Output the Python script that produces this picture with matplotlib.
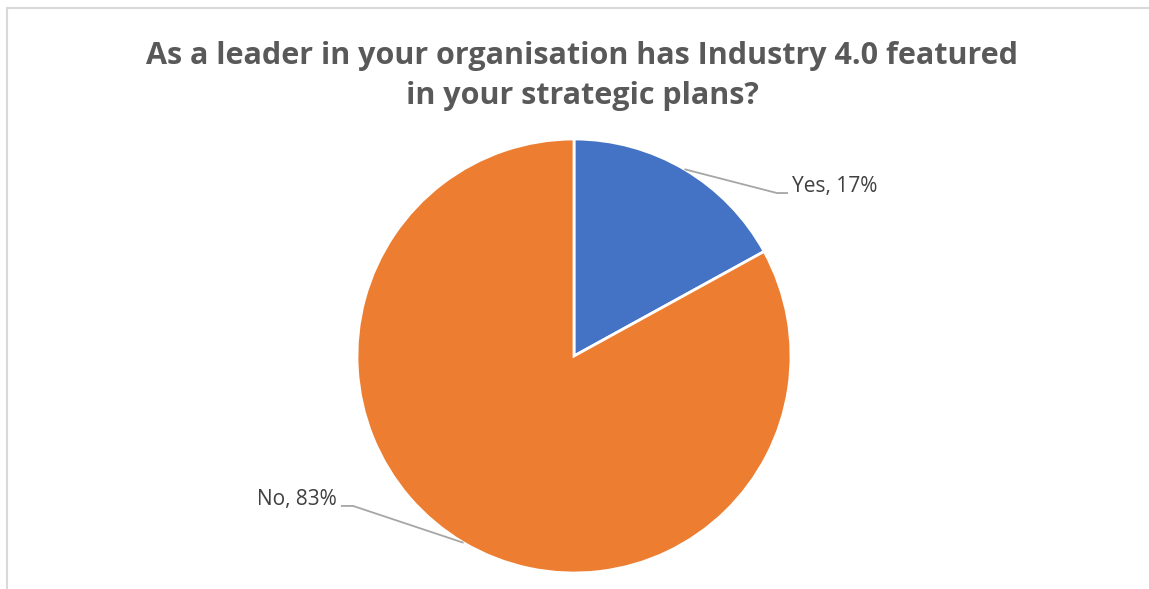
import numpy as np
import matplotlib.pyplot as plt
from matplotlib.lines import Line2D

# survey answers
answers = ["Yes", "No"]
shares = [17, 83]
colours = ["#4472C4", "#ED7D31"]
# label elbow / line end, in pie units
elbows = [(0.935, 0.751), (-1.018, -0.691)]
line_ends = [(0.986, 0.751), (-1.074, -0.691)]

title = "As a leader in your organisation has Industry 4.0 featured\nin your strategic plans?"

plt.rcParams['font.family'] = ['Open Sans', 'DejaVu Sans']

W, H = 1149, 589
fig = plt.figure(figsize=(W / 100, H / 100), dpi=100)

# pie centre and radius in pixels
cx, cy, r = 574, 356, 217
ax = fig.add_axes([(cx - r) / W, (H - cy - r) / H, 2 * r / W, 2 * r / H])
wedges, _ = ax.pie(shares, colors=colours, startangle=90, counterclock=False,
                   radius=1, wedgeprops=dict(edgecolor="white", linewidth=2))
ax.set_xlim(-1, 1)
ax.set_ylim(-1, 1)
ax.set_aspect("equal")
ax.axis("off")

for w, name, val, elb, end in zip(wedges, answers, shares, elbows, line_ends):
    mid = np.deg2rad((w.theta1 + w.theta2) / 2)
    sx, sy = np.cos(mid), np.sin(mid)
    ax.plot([sx, elb[0], end[0]], [sy, elb[1], end[1]], color="#A6A6A6",
            lw=1.3, clip_on=False, solid_capstyle="butt")
    right = end[0] > 0
    ax.text(end[0] + (0.02 if right else -0.02), end[1] + 0.03, f"{name}, {val}%",
            ha="left" if right else "right", va="center", fontsize=15,
            color="#404040", clip_on=False)

fig.text(582 / W, 1 - 76 / H, title, ha="center", va="center", fontsize=22,
         fontweight="bold", color="#595959", linespacing=1.45)

# chart frame (top and left edges)
fig.add_artist(Line2D([7 / W, 1], [1 - 8 / H, 1 - 8 / H], color="#D9D9D9", lw=1.5))
fig.add_artist(Line2D([7 / W, 7 / W], [0, 1 - 8 / H], color="#D9D9D9", lw=1.5))

fig.savefig("out.png", dpi=100, facecolor="white")
